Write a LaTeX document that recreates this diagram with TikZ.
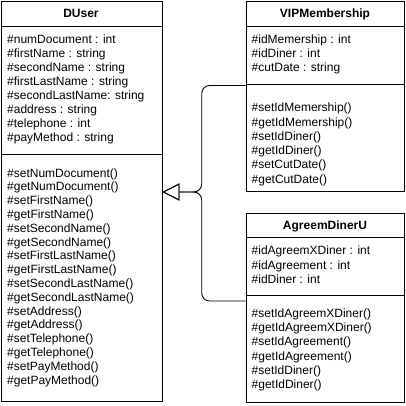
\documentclass[tikz,border=0pt]{standalone}
\usepackage{fontspec}
\setmainfont{Liberation Sans}
\usetikzlibrary{arrows.meta}
\tikzset{
  umlbox/.style={draw=black, line width=0.9pt, anchor=north west, inner sep=0pt, fill=white},
  sepline/.style={line width=0.9pt},
  txt/.style={anchor=base west, inner sep=0pt, font=\fontsize{12}{14}\selectfont},
  ttl/.style={anchor=base, inner sep=0pt, font=\fontsize{12}{14}\selectfont\bfseries},
  inh/.style={line width=0.9pt, rounded corners=8pt, -{Triangle[open, length=17pt, width=17pt, line width=0.9pt]}}
}
\begin{document}
\begin{tikzpicture}[x=1pt,y=-1pt]
\useasboundingbox (0,0) rectangle (406,406);
% DUser
\node[umlbox, minimum width=160.5pt, minimum height=399.5pt] (duser) at (1,1) {};
\draw[sepline] (duser.west |- 0,26) -- (duser.east |- 0,26);
\draw[sepline] (duser.west |- 0,154.5) -- (duser.east |- 0,154.5);
\node[ttl] (dutitle) at (81,18) {DUser};
\foreach \t [count=\i] in {\#numDocument : int, \#firstName : string, \#secondName : string, \#firstLastName : string, \#secondLastName: string, \#address : string, \#telephone : int, \#payMethod : string}
  \node[txt] (dua\i) at (7,44+13.9*\i-13.9) {\t};
\foreach \t [count=\i] in {\#setNumDocument(), \#getNumDocument(), \#setFirstName(), \#getFirstName(), \#setSecondName(), \#getSecondName(), \#setFirstLastName(), \#getFirstLastName(), \#setSecondLastName(), \#getSecondLastName(), \#setAddress(), \#getAddress(), \#setTelephone(), \#getTelephone(), \#setPayMethod(), \#getPayMethod()}
  \node[txt] (dum\i) at (7,177+13.8*\i-13.8) {\t};
% VIPMembership
\node[umlbox, minimum width=158.5pt, minimum height=189.5pt] (vip) at (245.5,1) {};
\draw[sepline] (vip.west |- 0,26) -- (vip.east |- 0,26);
\draw[sepline] (vip.west |- 0,84.5) -- (vip.east |- 0,84.5);
\node[ttl] (viptitle) at (325,18) {VIPMembership};
\foreach \t [count=\i] in {\#idMemership : int, \#idDiner : int, \#cutDate : string}
  \node[txt] (vipa\i) at (251.5,44+14*\i-14) {\t};
\foreach \t [count=\i] in {\#setIdMemership(), \#getIdMemership(), \#setIdDiner(), \#getIdDiner(), \#setCutDate(), \#getCutDate()}
  \node[txt] (vipm\i) at (251.5,112+14.2*\i-14.2) {\t};
% AgreemDinerU
\node[umlbox, minimum width=158.5pt, minimum height=189.5pt] (agr) at (245.5,212.5) {};
\draw[sepline] (agr.west |- 0,237.5) -- (agr.east |- 0,237.5);
\draw[sepline] (agr.west |- 0,295.5) -- (agr.east |- 0,295.5);
\node[ttl] (agrtitle) at (325,229.5) {AgreemDinerU};
\foreach \t [count=\i] in {\#idAgreemXDiner : int, \#idAgreement : int, \#idDiner : int}
  \node[txt] (agra\i) at (251.5,254.5+14.5*\i-14.5) {\t};
\foreach \t [count=\i] in {\#setIdAgreemXDiner(), \#getIdAgreemXDiner(), \#setIdAgreement(), \#getIdAgreement(), \#setIdDiner(), \#getIdDiner()}
  \node[txt] (agrm\i) at (251.5,317.5+14.2*\i-14.2) {\t};
% inheritance connectors
\coordinate (tip) at (duser.east |- 0,192);
\coordinate (joint) at (201.7,192);
\draw[inh] (vip.west |- 0,85.5) -| (joint) -- (tip);
\draw[inh] (agr.west |- 0,301) -| (joint) -- (tip);
\end{tikzpicture}
\end{document}
